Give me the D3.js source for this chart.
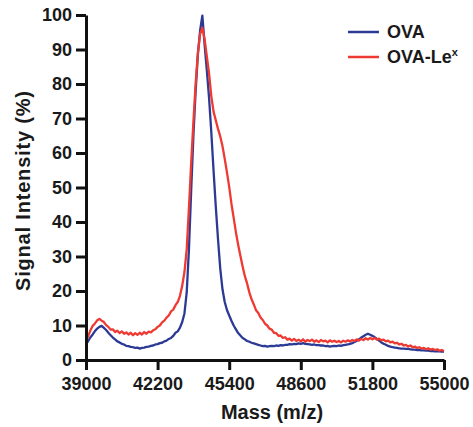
<!DOCTYPE html>
<html>
<head>
<meta charset="utf-8">
<script src="https://cdn.jsdelivr.net/npm/d3@7"></script>
<style>
  body { margin: 0; background: #fff; }
  text { font-family: "Liberation Sans", Arial, sans-serif; fill: #1a1a1a; }
</style>
</head>
<body>
<div id="chart"></div>
<script>
// spectra sampled every 100 Da starting at 39000
const massStart = 39000;
const massStep = 100;

const ova = [
  4.6, 5.5, 6.6, 7.4, 8.4, 9.1, 9.6, 9.9, 9.3, 8.7,
  7.9, 7.2, 6.5, 6.0, 5.4, 5.1, 4.7, 4.5, 4.1, 4.0,
  3.8, 3.7, 3.5, 3.6, 3.3, 3.5, 3.6, 3.8, 3.9, 4.1,
  4.2, 4.5, 4.6, 4.9, 5.0, 5.4, 5.6, 6.1, 6.4, 7.0,
  7.9, 8.3, 9.4, 11.0, 13.5, 19.5, 32, 49, 65, 78,
  88.5, 95.5, 99.8, 91.5, 84, 76, 66, 55, 44.5, 35,
  26.5, 20.5, 16.8, 14.5, 12.9, 11.4, 10.0, 8.9, 7.8, 7.1,
  6.4, 6.0, 5.5, 5.3, 5.0, 4.8, 4.6, 4.4, 4.2, 4.0,
  4.1, 3.9, 4.0, 4.1, 4.0, 4.2, 4.1, 4.3, 4.2, 4.4,
  4.4, 4.6, 4.5, 4.7, 4.6, 4.8, 4.7, 4.9, 4.7, 4.6,
  4.5, 4.4, 4.5, 4.3, 4.3, 4.2, 4.2, 4.0, 4.1, 3.9,
  4.0, 4.1, 4.0, 4.2, 4.1, 4.3, 4.4, 4.5, 4.7, 4.9,
  5.2, 5.6, 6.0, 6.5, 6.9, 7.3, 7.6, 7.3, 7.0, 6.6,
  6.1, 5.6, 5.1, 4.7, 4.4, 4.1, 3.9, 3.7, 3.6, 3.5,
  3.4, 3.3, 3.3, 3.2, 3.2, 3.1, 3.0, 3.0, 2.9, 2.9,
  2.8, 2.8, 2.7, 2.7, 2.6, 2.6, 2.5, 2.5, 2.5, 2.4,
  2.4
];

const ovaLex = [
  5.3, 7.0, 8.6, 9.9, 10.6, 11.5, 11.9, 11.4, 11.0, 10.1,
  9.6, 8.8, 8.9, 8.1, 8.5, 7.8, 8.3, 7.6, 8.0, 7.4,
  7.9, 7.2, 7.8, 7.3, 7.9, 7.4, 8.1, 7.6, 8.2, 8.0,
  8.6, 8.9, 9.6, 10.0, 10.9, 11.4, 12.3, 12.9, 14.1, 14.6,
  15.9, 16.8, 18.6, 21.5, 25.5, 32, 44, 57, 69, 80,
  89, 94.5, 96.3, 93, 88, 83, 76.5, 72, 69.5, 67,
  64.8, 62, 58.3, 54.4, 50.2, 45.3, 41.2, 37, 33.4, 30.2,
  27.1, 24.3, 22.2, 19.6, 17.6, 16.1, 14.4, 13.6, 12.3, 11.6,
  10.5, 10.0, 9.1, 8.8, 7.9, 7.8, 7.0, 7.1, 6.4, 6.6,
  5.9, 6.2, 5.6, 6.1, 5.5, 5.9, 5.4, 6.0, 5.3, 5.8,
  5.5, 5.9, 5.3, 5.7, 5.2, 5.8, 5.4, 5.6, 5.1, 5.7,
  5.3, 5.6, 5.2, 5.5, 5.1, 5.6, 5.3, 5.7, 5.4, 5.8,
  5.5, 6.0, 5.6, 6.1, 5.8, 6.3, 5.9, 6.4, 6.0, 6.4,
  5.9, 6.2, 5.7, 5.9, 5.4, 5.6, 5.1, 5.3, 4.8, 5.0,
  4.5, 4.7, 4.2, 4.4, 3.9, 4.2, 3.7, 3.9, 3.5, 3.7,
  3.3, 3.5, 3.1, 3.4, 3.0, 3.2, 2.9, 3.1, 2.7, 2.9,
  2.6
];

const xTicks = [39000, 42200, 45400, 48600, 51800, 55000];
const yTicks = [0, 10, 20, 30, 40, 50, 60, 70, 80, 90, 100];
const seriesNames = ["OVA", "OVA-Le"];
const seriesColors = ["#2b3a94", "#ee3a33"];

const margin = {top: 15, right: 29, bottom: 67, left: 86},
      width = 473 - margin.left - margin.right,
      height = 427 - margin.top - margin.bottom;

const svg = d3.select("#chart").append("svg")
    .attr("width", 473)
    .attr("height", 427)
  .append("g")
    .attr("transform", `translate(${margin.left},${margin.top})`);

const x = d3.scaleLinear().domain([39000, 55000]).range([0, width]);
const y = d3.scaleLinear().domain([0, 100]).range([height, 0]);

const line = d3.line()
    .x((d, i) => x(massStart + i * massStep))
    .y(d => y(d));

// spectra
[ova, ovaLex].forEach((s, k) => {
  svg.append("path")
     .datum(s)
     .attr("fill", "none")
     .attr("stroke", seriesColors[k])
     .attr("stroke-width", 2.3)
     .attr("stroke-linejoin", "round")
     .attr("d", line);
});

// axes
const xAxis = svg.append("g")
   .attr("transform", `translate(0,${height})`)
   .call(d3.axisBottom(x).tickValues(xTicks).tickSize(10).tickSizeOuter(0).tickPadding(7).tickFormat(d3.format("d")));
const yAxis = svg.append("g")
   .call(d3.axisLeft(y).tickValues(yTicks).tickSize(10).tickSizeOuter(0).tickPadding(4));

[xAxis, yAxis].forEach(g => {
  g.select(".domain").attr("stroke", "#111").attr("stroke-width", 3);
  g.selectAll(".tick line").attr("stroke", "#111").attr("stroke-width", 3);
  g.selectAll(".tick text")
   .style("font-size", "18px")
   .style("font-weight", "bold")
   .attr("fill", "#1a1a1a");
});

// x-axis label
svg.append("text")
   .attr("x", 272 - margin.left)
   .attr("y", 419 - margin.top)
   .style("text-anchor", "middle")
   .style("font-size", "20px")
   .style("font-weight", "bold")
   .text("Mass (m/z)");

// y-axis label
svg.append("text")
   .attr("transform", "rotate(-90)")
   .attr("x", -(191 - margin.top))
   .attr("y", 30 - margin.left)
   .style("text-anchor", "middle")
   .style("font-size", "20px")
   .style("font-weight", "bold")
   .attr("textLength", 200)
   .attr("lengthAdjust", "spacing")
   .text("Signal Intensity (%)");

// legend
const legend = svg.append("g").attr("transform", `translate(${348 - margin.left},${32 - margin.top})`);
seriesNames.forEach((name, k) => {
  const row = legend.append("g").attr("transform", `translate(0,${k * 25})`);
  row.append("line")
     .attr("x1", 0).attr("x2", 31)
     .attr("stroke", seriesColors[k])
     .attr("stroke-width", 2.5);
  const t = row.append("text")
     .attr("x", 39)
     .attr("y", 6)
     .style("font-size", "18px")
     .style("font-weight", "bold")
     .text(name);
  if (k === 1) {
    t.append("tspan")
     .attr("dy", -7)
     .style("font-size", "11px")
     .text("x");
  }
});
</script>
</body>
</html>
